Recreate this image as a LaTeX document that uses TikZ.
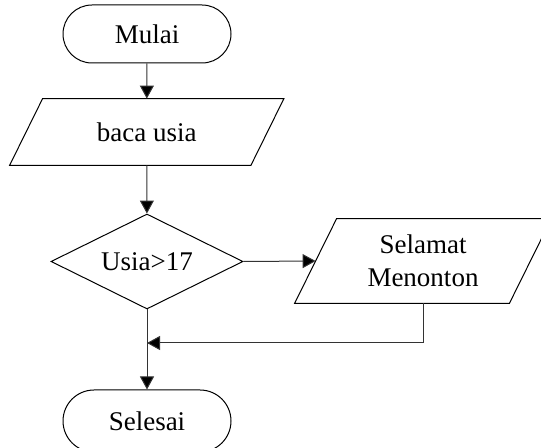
\documentclass[tikz,border=0pt]{standalone}
\usepackage{fontspec}
\setmainfont{Liberation Serif}
\usetikzlibrary{shapes.misc,shapes.geometric,arrows.meta,calc}
\begin{document}
\begin{tikzpicture}[x=0.5pt,y=-0.5pt,
  every node/.style={font=\fontsize{13.5}{16.5}\selectfont},
  term/.style={rounded rectangle, draw=black, line width=0.5pt,
    minimum width=84pt, minimum height=29pt, inner sep=0pt},
  iobox/.style={rectangle, inner sep=0pt, align=center},
  decision/.style={diamond, draw=black, line width=0.5pt, inner sep=0pt,
    aspect=2.02, minimum width=96pt, minimum height=47.5pt},
  shapeline/.style={draw=black, line width=0.5pt},
  flow/.style={draw=black!80, line width=0.5pt,
    -{Triangle[length=6.5pt,width=7pt,fill=black]}},
]
\useasboundingbox (0,0) rectangle (541,448);
\clip (0,0) rectangle (541,448);

% terminals
\node[term] (mulai) at (147,34) {Mulai};
\node[term, minimum height=31pt] (selesai) at (147,421) {Selesai};

% input/output boxes (text holders; outlines drawn below)
\node[iobox, minimum width=120.25pt, minimum height=33pt] (baca) at (146.75,132) {baca usia};
\node[iobox, minimum width=107pt, minimum height=42pt] (sel) at (423,261) {Selamat\\Menonton};

\draw[shapeline] ($(baca.south west)+(-16.5,0)$) -- ($(baca.south east)+(-16.5,0)$)
  -- ($(baca.north east)+(16.5,0)$) -- ($(baca.north west)+(16.5,0)$) -- cycle;
\draw[shapeline] ($(sel.south west)+(-21,0)$) -- ($(sel.south east)+(-21,0)$)
  -- ($(sel.north east)+(21,0)$) -- ($(sel.north west)+(21,0)$) -- cycle;

% decision
\node[decision] (cek) at (147,261.5) {Usia>17};

% junction where the output branch rejoins
\coordinate (gabung) at (147,343);

% connectors
\draw[flow] (mulai) -- (baca);
\draw[flow] (baca) -- (cek);
\draw[flow] (cek.east) -- (sel.west);
\draw[flow] (sel.south) |- (gabung);
\draw[flow] (cek.south) -- (selesai.north);
\end{tikzpicture}
\end{document}
